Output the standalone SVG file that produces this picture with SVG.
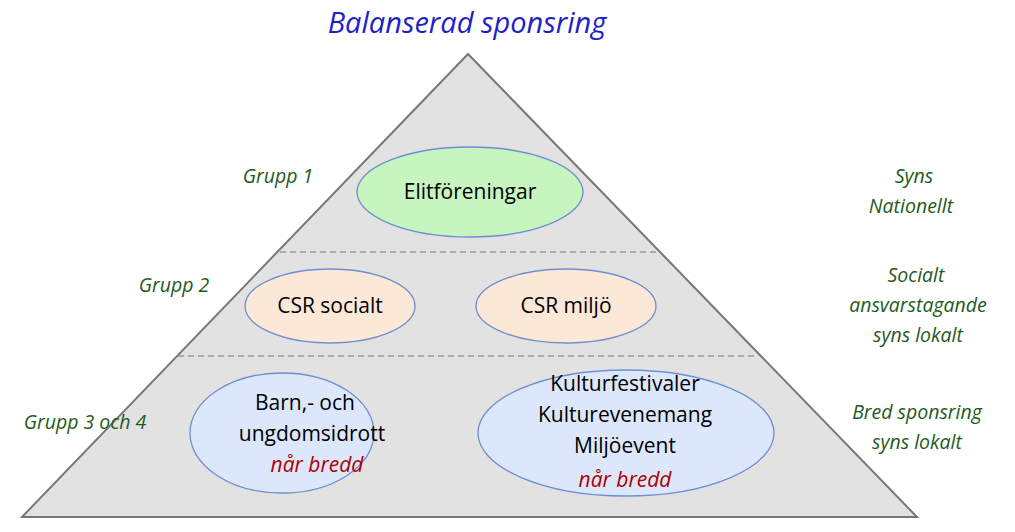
<svg xmlns="http://www.w3.org/2000/svg" width="1015" height="532" viewBox="0 0 1015 532">
<style>
.t{font-family:"Open Sans","Liberation Sans",sans-serif;font-size:21px;fill:#000;text-anchor:middle}
.g{font-family:"Open Sans","Liberation Sans",sans-serif;font-size:19.5px;font-style:italic;fill:#1e5a1e;text-anchor:middle}
.r{fill:#b00000;font-style:italic}
.e{stroke:#6f8fd0;stroke-width:1.3}
.d{stroke:#999;stroke-width:1.5;stroke-dasharray:6,4}
</style>
<rect width="1015" height="532" fill="#fff"/>
<text x="467" y="33" font-family="'Open Sans','Liberation Sans',sans-serif" font-size="29" font-style="italic" fill="#1f1fc8" text-anchor="middle">Balanserad sponsring</text>
<g id="pyramid"><polygon points="468,54 22,517 917,517" fill="#e2e2e2" stroke="#777" stroke-width="2"/></g>
<g id="connectors">
<line class="d" x1="280" y1="252" x2="656" y2="252"/>
<line class="d" x1="178" y1="356" x2="756" y2="356"/>
</g>
<g id="elit"><ellipse class="e" cx="470" cy="192" rx="113" ry="45" fill="#c6f5c0"/><text class="t" x="470" y="199">Elitföreningar</text></g>
<g id="csrs"><ellipse class="e" cx="330" cy="306" rx="85" ry="37" fill="#fbe8d6"/><text class="t" x="330" y="313">CSR socialt</text></g>
<g id="csrm"><ellipse class="e" cx="566" cy="306" rx="90" ry="37" fill="#fbe8d6"/><text class="t" x="566" y="313">CSR miljö</text></g>
<g id="barn"><ellipse class="e" cx="282" cy="433" rx="92" ry="60" fill="#dce7fb"/>
<text class="t" x="305" y="410">Barn,- och</text><text class="t" x="312" y="441">ungdomsidrott</text><text class="t r" x="317" y="472">når bredd</text></g>
<g id="kultur"><ellipse class="e" cx="626" cy="433" rx="148" ry="63" fill="#dce7fb"/>
<text class="t" x="625" y="391">Kulturfestivaler</text><text class="t" x="625" y="422">Kulturevenemang</text><text class="t" x="625" y="453">Miljöevent</text><text class="t r" x="625" y="487">når bredd</text></g>
<g id="labels">
<text class="g" x="278" y="183">Grupp 1</text>
<text class="g" x="174" y="292">Grupp 2</text>
<text class="g" x="85" y="429">Grupp 3 och 4</text>
<text class="g" x="914" y="183">Syns</text><text class="g" x="911" y="213">Nationellt</text>
<text class="g" x="916" y="282">Socialt</text><text class="g" x="918" y="312">ansvarstagande</text><text class="g" x="918" y="342">syns lokalt</text>
<text class="g" x="917" y="419">Bred sponsring</text><text class="g" x="917" y="449">syns lokalt</text>
</g>
</svg>
